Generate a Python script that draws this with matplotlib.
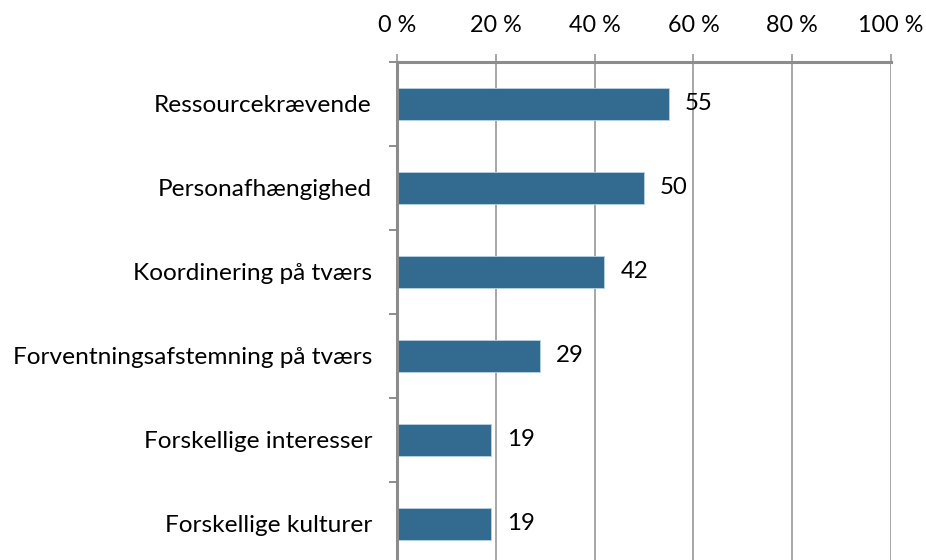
import matplotlib
matplotlib.use("Agg")
import matplotlib.pyplot as plt
from matplotlib.ticker import FixedLocator, FuncFormatter

# survey answers, share of respondents (%)
categories = [
    "Ressourcekrævende",
    "Personafhængighed",
    "Koordinering på tværs",
    "Forventningsafstemning på tværs",
    "Forskellige interesser",
    "Forskellige kulturer",
]
values = [55, 50, 42, 29, 19, 19]
x_ticks = [0, 20, 40, 60, 80, 100]

plt.rcParams["font.family"] = ["Lato", "DejaVu Sans"]

fig = plt.figure(figsize=(9.26, 5.6), dpi=100)
ax = fig.add_axes([397 / 926, -6 / 560, 494 / 926, 504 / 560])

ypos = list(range(len(categories)))
ax.barh(ypos, values, height=0.39, color="#336a8f",
        edgecolor="#b9d3e6", linewidth=0.6, zorder=3)

for y, v in zip(ypos, values):
    ax.text(v + 3.2, y, str(v), va="center", ha="left", fontsize=17.3,
            color="black", zorder=4)

ax.set_xlim(0, 100)
ax.set_ylim(len(categories) - 0.5, -0.5)

ax.xaxis.tick_top()
ax.xaxis.set_major_locator(FixedLocator(x_ticks))
ax.xaxis.set_major_formatter(FuncFormatter(lambda v, p: f"{v:.0f} %"))
ax.set_yticks(ypos)
ax.set_yticklabels(categories)
# tick marks between the categories
ax.yaxis.set_minor_locator(FixedLocator([i - 0.5 for i in range(len(categories) + 1)]))

grey = "#8c8c8c"
ax.grid(axis="x", color="#a6a6a6", linewidth=1.4, zorder=0)
ax.tick_params(axis="x", which="major", length=6, width=1.4, color="#a6a6a6",
               labelsize=16.8, pad=13)
ax.tick_params(axis="y", which="major", length=0, labelsize=17.6, pad=18)
ax.tick_params(axis="y", which="minor", length=6, width=1.4, color=grey)

for side in ["right", "bottom"]:
    ax.spines[side].set_visible(False)
for side in ["left", "top"]:
    ax.spines[side].set_color(grey)
    ax.spines[side].set_linewidth(2.2)
    ax.spines[side].set_zorder(5)

fig.savefig("out.png", dpi=100)
